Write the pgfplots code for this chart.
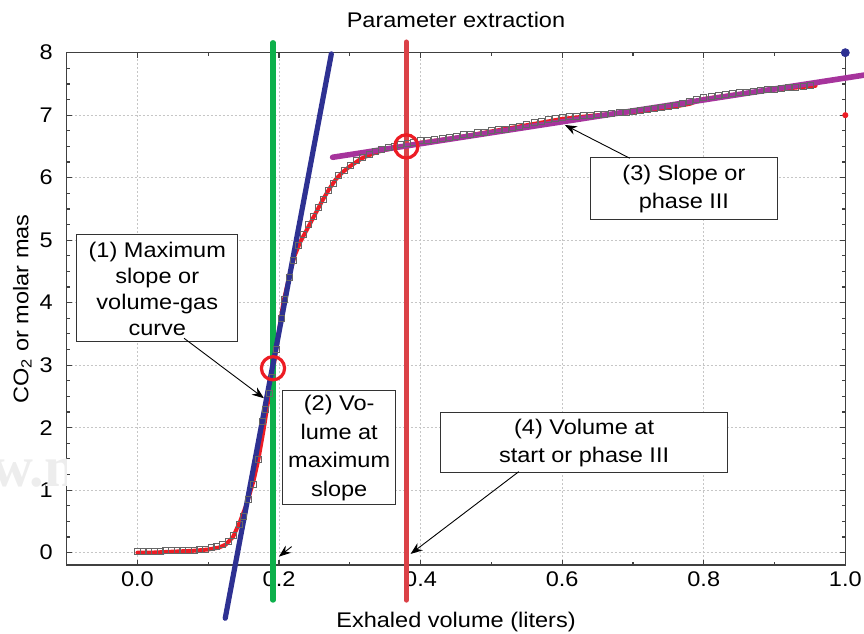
\documentclass[border=0pt]{standalone}
\usepackage{fontspec}
\setmainfont{Liberation Sans}[FakeStretch=1.11]
\newfontfamily\wmfont{Liberation Serif}
\usepackage{pgfplots}
\pgfplotsset{compat=1.18}
\usetikzlibrary{arrows.meta}
\definecolor{cred}{HTML}{ED1C24}
\definecolor{cvred}{HTML}{DB4147}
\definecolor{cgreen}{HTML}{0DB04B}
\definecolor{cblue}{HTML}{2E3192}
\definecolor{cpurple}{HTML}{A6349C}
\begin{document}
\begin{tikzpicture}[font=\fontsize{10.6}{12.7}\selectfont]
\begin{axis}[
 scale only axis, width=389.3pt, height=256.2pt,
 xmin=-0.1, xmax=1.0, ymin=-0.2, ymax=8,
 xtick={0,0.2,0.4,0.6,0.8,1.0},
 xticklabels={0.0,0.2,0.4,0.6,0.8,1.0},
 minor xtick={-0.1,0.1,0.3,0.5,0.7,0.9},
 ytick={0,1,2,3,4,5,6,7,8},
 minor y tick num=3,
 tick align=inside,
 major tick length=2.5pt, minor tick length=1.5pt,
 grid=major,
 major grid style={gray!45, line width=0.4pt, dash pattern=on 1pt off 1pt},
 axis line style={black!75, line width=0.8pt},
 every tick/.style={black!75, line width=0.6pt},
 /pgf/number format/assume math mode=true,
 yticklabel style={xshift=-3.5pt},
 title={Parameter extraction},
 title style={at={(axis description cs:0.5,1.064)}, anchor=center, yshift=-6pt},
 xlabel={Exhaled volume (liters)},
 xlabel style={at={(axis description cs:0.5,-0.112)}, anchor=center},
 ylabel={CO\textsubscript{2} or molar mas},
 ylabel style={at={(axis description cs:-0.057,0.5)}, anchor=center},
 clip=false,
]
% data markers
\addplot[only marks, mark=square, mark size=1.5pt, mark options={black!60, line width=0.3pt}] table {
x y
0.000 0.02
0.008 0.02
0.016 0.02
0.024 0.02
0.032 0.02
0.040 0.03
0.048 0.03
0.056 0.03
0.064 0.03
0.072 0.04
0.080 0.04
0.088 0.05
0.096 0.06
0.104 0.08
0.112 0.10
0.120 0.13
0.128 0.18
0.136 0.28
0.144 0.45
0.150 0.58
0.157 0.85
0.163 1.10
0.171 1.50
0.176 2.10
0.181 2.30
0.186 2.55
0.190 2.80
0.196 3.25
0.203 3.75
0.208 4.05
0.214 4.40
0.220 4.68
0.227 4.92
0.234 5.10
0.241 5.25
0.248 5.38
0.255 5.52
0.262 5.66
0.269 5.80
0.276 5.91
0.284 6.03
0.292 6.12
0.300 6.20
0.309 6.27
0.318 6.33
0.327 6.38
0.336 6.42
0.345 6.45
0.354 6.48
0.363 6.50
0.372 6.53
0.381 6.55
0.390 6.57
0.400 6.59
0.410 6.60
0.420 6.62
0.430 6.63
0.440 6.65
0.450 6.66
0.460 6.69
0.470 6.70
0.480 6.72
0.490 6.73
0.500 6.75
0.510 6.77
0.520 6.78
0.530 6.80
0.540 6.82
0.550 6.85
0.560 6.88
0.570 6.90
0.580 6.93
0.590 6.95
0.600 6.97
0.610 6.98
0.620 6.98
0.630 6.99
0.640 7.00
0.650 7.01
0.660 7.02
0.670 7.03
0.680 7.04
0.690 7.05
0.700 7.06
0.710 7.08
0.720 7.10
0.730 7.11
0.740 7.12
0.750 7.14
0.760 7.16
0.770 7.19
0.780 7.22
0.790 7.26
0.800 7.29
0.810 7.30
0.820 7.31
0.830 7.33
0.840 7.35
0.850 7.36
0.860 7.37
0.870 7.38
0.880 7.40
0.890 7.41
0.900 7.42
0.910 7.43
0.920 7.44
0.930 7.45
0.940 7.46
0.950 7.47
};
% fitted curve
\addplot[cred, line width=2pt, line join=round, line cap=round] table {
x y
0.000 0.00
0.020 0.00
0.040 0.01
0.060 0.02
0.080 0.03
0.100 0.05
0.115 0.08
0.125 0.13
0.135 0.25
0.145 0.50
0.155 0.80
0.164 1.15
0.171 1.50
0.178 1.95
0.185 2.45
0.192 2.95
0.199 3.48
0.206 4.00
0.214 4.40
0.222 4.75
0.230 4.97
0.238 5.14
0.246 5.31
0.254 5.48
0.262 5.65
0.271 5.82
0.280 5.97
0.290 6.09
0.300 6.18
0.317 6.31
0.338 6.41
0.359 6.47
0.378 6.51
0.400 6.56
0.450 6.64
0.500 6.74
0.550 6.84
0.600 6.94
0.650 7.00
0.700 7.05
0.750 7.12
0.780 7.18
0.800 7.26
0.850 7.34
0.900 7.41
0.958 7.47
};
% vertical lines and tangents
\addplot[cgreen, line width=2.6pt, line cap=round] coordinates {(0.1915,-0.76) (0.1915,8.16)};
\addplot[cvred, line width=2.6pt, line cap=round] coordinates {(0.3798,-0.76) (0.3798,8.17)};
\addplot[cblue, line width=2.6pt, line cap=round] coordinates {(0.124,-1.05) (0.2739,7.98)};
\addplot[cpurple, line width=2.8pt, line cap=round] coordinates {(0.2757,6.326) (1.03,7.647)};
% circles
\addplot[only marks, mark=o, mark size=5.8pt, mark options={cred, line width=1.6pt}] coordinates {(0.1915,2.95) (0.3798,6.50)};
% corner dots
\addplot[only marks, mark=*, mark size=2pt, cblue] coordinates {(1.0,8)};
\addplot[only marks, mark=*, mark size=1.3pt, cred] coordinates {(1.0,7)};
% watermark fragment
\begin{scope}
\clip (axis cs:-0.3,0.4) rectangle (axis cs:-0.1,1.8);
\node[anchor=base west, text=gray!14, font=\wmfont\bfseries\fontsize{29}{30}\selectfont, inner sep=0pt] at (axis cs:-0.2071,1.056) {w.n};
\end{scope}
% annotation boxes
\node[draw=black!80, line width=0.5pt, fill=white, align=center, minimum width=80.5pt, minimum height=53.5pt, inner sep=1pt, font=\fontsize{10.6}{13}\selectfont] at (axis cs:0.028,4.227) {(1) Maximum\\slope or\\volume-gas\\curve};
\node[draw=black!80, line width=0.5pt, fill=white, align=center, minimum width=56.5pt, minimum height=57pt, inner sep=1pt, font=\fontsize{10.6}{14.2}\selectfont] at (axis cs:0.285,1.675) {(2) Vo-\\lume at\\maximum\\slope};
\node[draw=black!80, line width=0.5pt, fill=white, align=center, minimum width=93.5pt, minimum height=31pt, inner sep=1pt, font=\fontsize{10.6}{13.7}\selectfont] at (axis cs:0.772,5.819) {(3) Slope or\\phase III};
\node[draw=black!80, line width=0.5pt, fill=white, align=center, minimum width=143.5pt, minimum height=30pt, inner sep=1pt, font=\fontsize{10.6}{13.7}\selectfont] at (axis cs:0.631,1.755) {(4) Volume at\\start or phase III};
% arrows
\draw[-{Stealth[length=6pt,width=4.5pt]}, line width=0.45pt] (axis cs:0.0658,3.43) -- (axis cs:0.1787,2.47);
\draw[-{Stealth[length=6pt,width=4.5pt]}, line width=0.45pt] (axis cs:0.2178,0.096) -- (axis cs:0.1999,-0.064);
\draw[-{Stealth[length=6pt,width=4.5pt]}, line width=0.45pt] (axis cs:0.6956,6.31) -- (axis cs:0.6038,6.843);
\draw[-{Stealth[length=6pt,width=4.5pt]}, line width=0.45pt] (axis cs:0.5388,1.296) -- (axis cs:0.3859,-0.021);
% page frame
\coordinate (bbSW) at (axis cs:-0.1942,-1.288);
\coordinate (bbNE) at (axis cs:1.0264,8.843);
\end{axis}
\pgfresetboundingbox
\useasboundingbox (bbSW) rectangle (bbNE);
\end{tikzpicture}
\end{document}
